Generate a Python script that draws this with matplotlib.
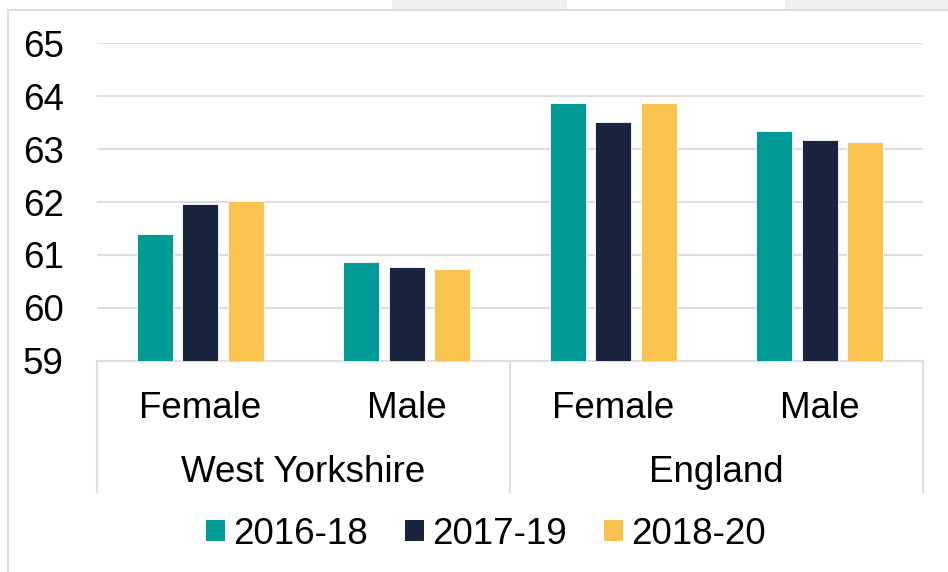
import matplotlib
matplotlib.use("Agg")
import matplotlib.pyplot as plt
import matplotlib.transforms as mtransforms
from matplotlib.patches import Patch, Rectangle
import numpy as np

plt.rcParams['font.family'] = ['Liberation Sans', 'DejaVu Sans']

groups = ["West Yorkshire", "England"]
categories = ["Female", "Male", "Female", "Male"]
series_names = ["2016-18", "2017-19", "2018-20"]
v_2016_18 = [61.39, 60.86, 63.87, 63.34]
v_2017_19 = [61.96, 60.78, 63.52, 63.17]
v_2018_20 = [62.02, 60.73, 63.87, 63.13]
colors = ["#009B94", "#19253F", "#FAC350"]
yticks = [59, 60, 61, 62, 63, 64, 65]

W, H = 948, 572
fig = plt.figure(figsize=(W / 100, H / 100), dpi=100)

def fx(px):
    return px / W

def fy(py):
    return 1 - py / H

# outer light frame and background artifacts
fig.patches.append(Rectangle((fx(392), fy(10)), fx(175), 10 / H, transform=fig.transFigure,
                             facecolor="#f0f0f0", edgecolor="none", zorder=0))
fig.patches.append(Rectangle((fx(785), fy(10)), fx(163), 10 / H, transform=fig.transFigure,
                             facecolor="#f0f0f0", edgecolor="none", zorder=0))
fig.lines.append(plt.Line2D([fx(8), fx(948)], [fy(10), fy(10)], transform=fig.transFigure,
                            color="#dcdcdc", lw=1.5))
fig.lines.append(plt.Line2D([fx(8), fx(8)], [fy(10), fy(572)], transform=fig.transFigure,
                            color="#dcdcdc", lw=1.5))

top_px, bot_px, left_px, right_px = 43.3, 360.7, 97, 923
ax = fig.add_axes([fx(left_px), fy(bot_px), fx(right_px - left_px), (bot_px - top_px) / H])

x = np.arange(len(categories))
step = 0.22
width = 0.175
series = [v_2016_18, v_2017_19, v_2018_20]
for i, (vals, c) in enumerate(zip(series, colors)):
    ax.bar(x + (i - 1) * step, np.array(vals) - 59, bottom=59, width=width, color=c,
           edgecolor="white", linewidth=0.6, zorder=3, label=series_names[i])

ax.set_xlim(-0.5, len(categories) - 0.5)
ax.set_ylim(59, 65)
ax.set_yticks(yticks)
ax.set_yticklabels([str(t) for t in yticks], fontsize=26.5)
ax.tick_params(axis="y", length=0, pad=24)
ax.tick_params(axis="x", length=0, labelbottom=False)
ax.yaxis.grid(True, color="#dedede", lw=1.5, zorder=0)
ax.set_axisbelow(True)
for s in ["left", "right", "top"]:
    ax.spines[s].set_visible(False)
ax.spines["bottom"].set_color("#dedede")
ax.spines["bottom"].set_linewidth(1.5)

trans = mtransforms.blended_transform_factory(ax.transData, fig.transFigure)
# category labels
for xi, cat in zip(x, categories):
    ax.text(xi, fy(408), cat, transform=trans, ha="center", va="center", fontsize=26.5)
# group labels
ax.text(0.5, fy(473), groups[0], transform=trans, ha="center", va="center", fontsize=26.5)
ax.text(2.5, fy(473), groups[1], transform=trans, ha="center", va="center", fontsize=26.5)
# separators
for sx in [-0.5, 1.5, 3.5]:
    ax.plot([sx, sx], [fy(bot_px), fy(492)], transform=trans, color="#dedede", lw=1.5,
            clip_on=False)

handles = [Patch(facecolor=c, edgecolor="none") for c in colors]
fig.legend(handles, series_names, loc="center", bbox_to_anchor=(fx(486), fy(534)),
           ncol=3, frameon=False, fontsize=26.5, handlelength=0.52, handleheight=0.52,
           handletextpad=0.22, columnspacing=1.0, borderpad=0)

fig.savefig("out.png", dpi=100, facecolor="white")
